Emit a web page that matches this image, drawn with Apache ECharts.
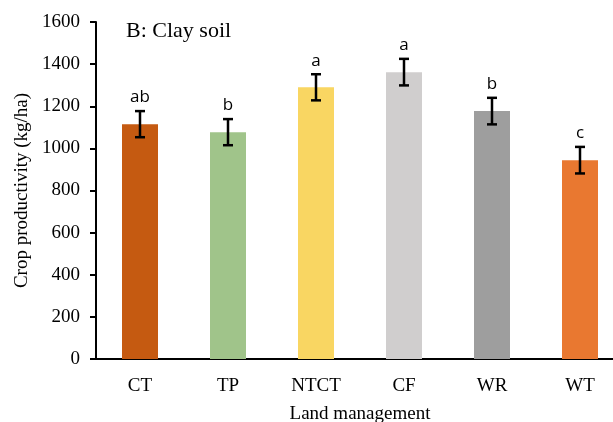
<!DOCTYPE html>
<html>
<head>
<meta charset="utf-8">
<script src="https://cdn.jsdelivr.net/npm/echarts@6/dist/echarts.min.js"></script>
<style>html,body{margin:0;padding:0;background:#fff;}#main{width:613px;height:422px;}</style>
</head>
<body>
<div id="main"></div>
<script>
const categories = ['CT', 'TP', 'NTCT', 'CF', 'WR', 'WT'];
const yields = [1115, 1077, 1290, 1362, 1177, 944];
const errors = [62, 62, 62, 63, 63, 63];
const letters = ['ab', 'b', 'a', 'a', 'b', 'c'];
const barColors = ['#C55A11', '#A0C48A', '#F9D662', '#D0CECE', '#9E9E9E', '#E97830'];
const yTicks = { min: 0, max: 1600, interval: 200 };

const chart = echarts.init(document.getElementById('main'));
const serif = 'Liberation Serif';
chart.setOption({
  animation: false,
  title: {
    text: 'B: Clay soil', left: 121, top: 15,
    textStyle: { fontFamily: serif, fontSize: 22, fontWeight: 'normal', color: '#000' }
  },
  grid: { left: 96, right: -11, top: 22, bottom: 63, containLabel: false, outerBoundsMode: 'none' },
  xAxis: {
    type: 'category', data: categories,
    name: 'Land management', nameLocation: 'middle', nameGap: 46,
    nameTextStyle: { fontFamily: serif, fontSize: 19, color: '#000' },
    axisLine: { lineStyle: { color: '#000', width: 2 } },
    axisTick: { show: false },
    axisLabel: { fontFamily: serif, fontSize: 19, color: '#000', margin: 18 }
  },
  yAxis: {
    type: 'value', min: yTicks.min, max: yTicks.max, interval: yTicks.interval,
    name: 'Crop productivity (kg/ha)', nameLocation: 'middle', nameGap: 64,
    nameTextStyle: { fontFamily: serif, fontSize: 19, color: '#000' },
    axisLine: { show: true, lineStyle: { color: '#000', width: 2 } },
    axisTick: { show: true, length: 6, lineStyle: { color: '#000', width: 2 } },
    splitLine: { show: false },
    axisLabel: { fontFamily: serif, fontSize: 19, color: '#000', margin: 16, formatter: v => String(v) }
  },
  series: [
    {
      type: 'bar', barWidth: 36,
      data: yields.map((v, i) => ({ value: v, itemStyle: { color: barColors[i] } }))
    },
    {
      type: 'custom', z: 10,
      data: yields.map((v, i) => [i, v, errors[i]]),
      renderItem: function (params, api) {
        const i = api.value(0), v = api.value(1), e = api.value(2);
        const top = api.coord([i, v + e]);
        const bot = api.coord([i, v - e]);
        const hw = 5;
        const st = { stroke: '#000', lineWidth: 2.5 };
        return {
          type: 'group',
          children: [
            { type: 'line', shape: { x1: top[0], y1: top[1], x2: bot[0], y2: bot[1] }, style: st },
            { type: 'line', shape: { x1: top[0] - hw, y1: top[1], x2: top[0] + hw, y2: top[1] }, style: st },
            { type: 'line', shape: { x1: bot[0] - hw, y1: bot[1], x2: bot[0] + hw, y2: bot[1] }, style: st },
            { type: 'text', style: { text: letters[params.dataIndex], x: top[0], y: top[1] - 5,
              align: 'center', verticalAlign: 'bottom', fontFamily: 'Open Sans', fontSize: 17, fill: '#000' } }
          ]
        };
      }
    }
  ]
});
</script>
</body>
</html>
